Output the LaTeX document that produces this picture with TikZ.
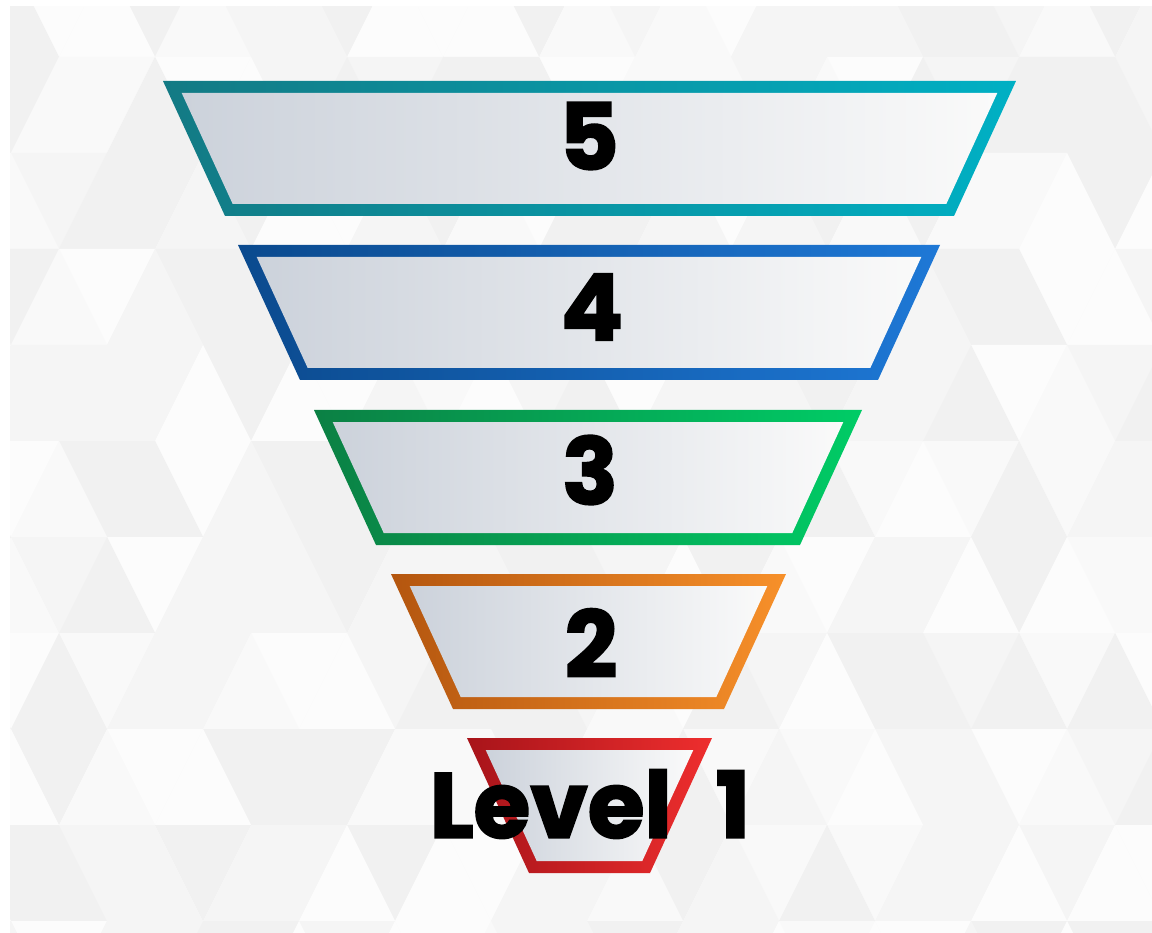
\documentclass[tikz,border=0pt]{standalone}
\usepackage{fontspec}
\newfontfamily\numfont{Poppins}[BoldFeatures={FakeBold=2.2}]
\definecolor{bgA}{HTML}{F9F9F9}
\definecolor{bgB}{HTML}{F1F1F1}
\definecolor{bgC}{HTML}{F5F5F5}
\definecolor{bgD}{HTML}{FCFCFC}
\definecolor{fillL}{HTML}{CCD2DB}
\definecolor{fillR}{HTML}{FAFAFA}
\definecolor{c5l}{HTML}{137A84}\definecolor{c5r}{HTML}{00B0C4}
\definecolor{c4l}{HTML}{0B4A8E}\definecolor{c4r}{HTML}{1E78D6}
\definecolor{c3l}{HTML}{0B8044}\definecolor{c3r}{HTML}{00CC66}
\definecolor{c2l}{HTML}{B4560F}\definecolor{c2r}{HTML}{F7902A}
\definecolor{c1l}{HTML}{A8141A}\definecolor{c1r}{HTML}{EE2E2E}
\tikzset{
  label text/.style={font=\numfont\bfseries\fontsize{92}{92}\selectfont, text=black, inner sep=0pt, anchor=center},
}
% #1 top y, #2 top-left x, #3 top-right x, #4 left colour, #5 right colour, #6 name
\newcommand{\funnelband}[6]{%
  \pgfmathsetmacro{\yb}{#1+135}%
  \shade[left color=#4, right color=#5] (#2,#1) -- (#3,#1) -- (#3-62,\yb) -- (#2+62,\yb) -- cycle;
  \shade[left color=fillL, right color=fillR] (#2+18.7,#1+12) -- (#3-18.7,#1+12) -- (#3-62-7.7,\yb-12) -- (#2+62+7.7,\yb-12) -- cycle;
  \coordinate (#6) at ({(#2+#3)/2},{#1+67.5});
}
\begin{document}
\begin{tikzpicture}[x=1pt,y=-1pt]
\useasboundingbox (0,0) rectangle (1152,933);
\fill[white] (0,0) rectangle (1152,933);
\begin{scope}
\clip (10,7) rectangle (1152,933);
\fill[bgA] (10,7) rectangle (1152,933);
\foreach \r in {-1,...,9}{
  \pgfmathsetmacro{\ytop}{57+96*\r}
  \pgfmathsetmacro{\ybot}{\ytop+96}
  \pgfmathsetmacro{\a}{isodd(\r) ? 107 : 59}
  \foreach \k in {-2,...,12}{
    \pgfmathtruncatemacro{\sd}{mod(abs(int(1000*sin(\r*131+\k*71+17))),4)}
    \pgfmathtruncatemacro{\su}{mod(abs(int(1000*sin(\r*53+\k*97+41))),4)}
    \ifcase\sd \def\cd{bgA}\or \def\cd{bgB}\or \def\cd{bgC}\or \def\cd{bgD}\fi
    \ifcase\su \def\cu{bgA}\or \def\cu{bgB}\or \def\cu{bgC}\or \def\cu{bgD}\fi
    \fill[\cd] ({\a+96*\k},\ytop) -- ({\a+96*\k+96},\ytop) -- ({\a+96*\k+48},\ybot) -- cycle;
    \fill[\cu] ({\a+96*\k},\ytop) -- ({\a+96*\k+48},\ybot) -- ({\a+96*\k-48},\ybot) -- cycle;
  }
}
\end{scope}
\funnelband{81}{163}{1016}{c5l}{c5r}{b5}
\funnelband{245}{238}{940}{c4l}{c4r}{b4}
\funnelband{410}{314}{862}{c3l}{c3r}{b3}
\funnelband{574}{391}{786}{c2l}{c2r}{b2}
\funnelband{738}{467}{712}{c1l}{c1r}{b1}
\node[label text] (t5) at (589,136) {5};
\node[label text] (t4) at (592,307) {4};
\node[label text] (t3) at (590,470) {3};
\node[label text] (t2) at (591,643) {2};
\node[label text] (t1) at (590,804) {Level\hspace{44pt}1};
\end{tikzpicture}
\end{document}
